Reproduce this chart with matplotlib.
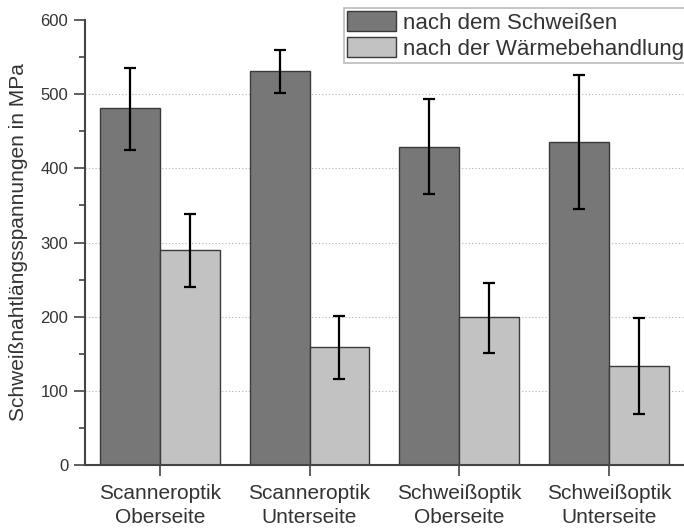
import numpy as np
import matplotlib.pyplot as plt
from matplotlib.ticker import MultipleLocator

plt.rcParams['font.family'] = ['Liberation Sans', 'DejaVu Sans']

categories = ['Scanneroptik\nOberseite', 'Scanneroptik\nUnterseite',
              'Schweißoptik\nOberseite', 'Schweißoptik\nUnterseite']
series_names = ['nach dem Schweißen', 'nach der Wärmebehandlung']

welded = [481, 531, 429, 436]
welded_lo = [425, 502, 365, 345]
welded_hi = [536, 560, 493, 526]

annealed = [290, 159, 199, 133]
annealed_lo = [240, 116, 151, 69]
annealed_hi = [338, 201, 245, 198]

text_col = '#333333'

fig = plt.figure(figsize=(6.84, 5.29), dpi=100)
ax = fig.add_axes([0.124, 0.121, 0.876, 0.841])

x = np.arange(len(categories))
w = 0.4

def yerr(vals, lo, hi):
    v = np.array(vals)
    return [v - np.array(lo), np.array(hi) - v]

ax.bar(x - w / 2, welded, w, color='#777777', edgecolor='#3a3a3a', linewidth=1,
       label=series_names[0], zorder=2)
ax.bar(x + w / 2, annealed, w, color='#c2c2c2', edgecolor='#3a3a3a', linewidth=1,
       label=series_names[1], zorder=2)
ax.errorbar(x - w / 2, welded, yerr=yerr(welded, welded_lo, welded_hi), fmt='none',
            ecolor='black', elinewidth=1.6, capsize=4, capthick=1.6, zorder=3)
ax.errorbar(x + w / 2, annealed, yerr=yerr(annealed, annealed_lo, annealed_hi), fmt='none',
            ecolor='black', elinewidth=1.6, capsize=4, capthick=1.6, zorder=3)

ax.set_xlim(-0.5, 3.5)
ax.set_ylim(0, 600)
ax.set_xticks(x)
ax.set_xticklabels(categories, fontsize=15, color=text_col, linespacing=1.3)
ax.yaxis.set_major_locator(MultipleLocator(100))
ax.yaxis.set_minor_locator(MultipleLocator(50))
ax.tick_params(axis='y', which='major', labelsize=12, labelcolor=text_col,
               length=8, width=1.2, color='#444444', pad=4)
ax.tick_params(axis='y', which='minor', length=4, width=1.2, color='#444444')
ax.tick_params(axis='x', length=8, width=1.2, color='#444444', pad=6)

for y in range(100, 600, 100):
    ax.axhline(y, color='#b0b0b0', linestyle=(0, (1, 2)), linewidth=0.8, zorder=0)

ax.spines['top'].set_visible(False)
ax.spines['right'].set_visible(False)
for s in ['left', 'bottom']:
    ax.spines[s].set_color('#444444')
    ax.spines[s].set_linewidth(1.5)

ax.set_ylabel('Schweißnahtlängsspannungen in MPa', fontsize=15, color=text_col, labelpad=9)

leg = ax.legend(loc='upper right', bbox_to_anchor=(1.005, 0.985), bbox_transform=fig.transFigure,
                fontsize=16, frameon=True, fancybox=False, handlelength=2.2, handleheight=1.0,
                labelspacing=0.15, handletextpad=0.3, borderpad=0.15, borderaxespad=0)
leg.get_frame().set_edgecolor('#aaaaaa')
leg.get_frame().set_linewidth(1.2)
for t in leg.get_texts():
    t.set_color(text_col)

fig.savefig('out.png', dpi=100)
